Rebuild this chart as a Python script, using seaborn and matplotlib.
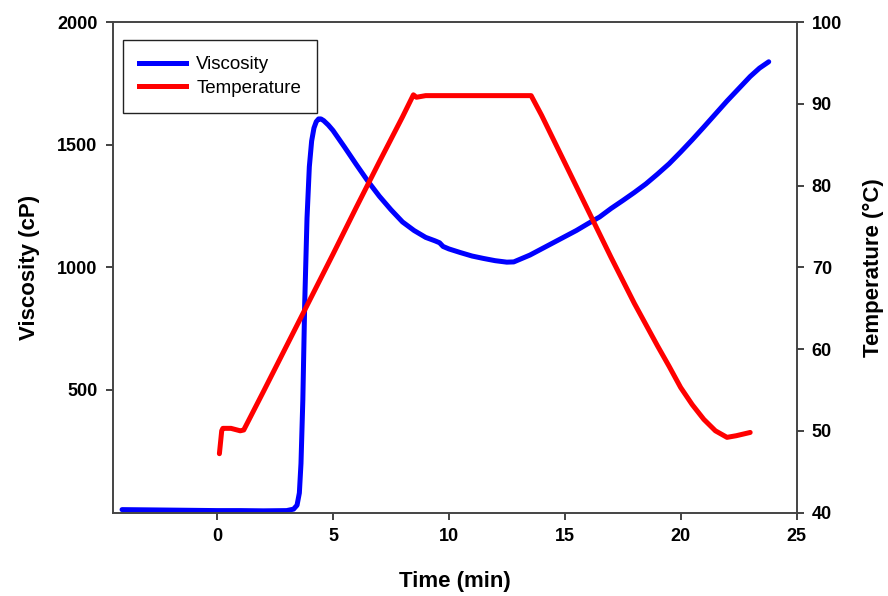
import matplotlib
matplotlib.use("Agg")
import matplotlib.pyplot as plt
import seaborn as sns
import pandas as pd
from matplotlib.lines import Line2D

# Viscosity (cP) vs time (min)
visc_time = [-4.1, -3.0, -2.0, -1.0, 0.0, 1.0, 2.0, 3.0, 3.3, 3.45, 3.55, 3.62, 3.7,
             3.78, 3.88, 3.98, 4.08, 4.18, 4.28, 4.38, 4.48, 4.6, 4.8, 5.0, 5.5, 6.0,
             6.5, 7.0, 7.5, 8.0, 8.5, 9.0, 9.4, 9.6, 9.75, 10.0, 10.5, 11.0, 11.5, 12.0,
             12.5, 12.8, 13.5, 14.0, 14.5, 15.0, 15.5, 16.0, 16.5, 17.0, 17.5, 18.0,
             18.5, 19.0, 19.5, 20.0, 20.5, 21.0, 21.5, 22.0, 22.5, 23.0, 23.4, 23.8]
viscosity = [12, 11, 10, 9, 8, 8, 7, 8, 14, 30, 80, 200, 460,
             850, 1200, 1410, 1515, 1568, 1594, 1605, 1605, 1598, 1580, 1558, 1490, 1420,
             1352, 1290, 1235, 1185, 1150, 1122, 1108, 1100, 1085, 1075, 1060, 1046, 1036, 1027,
             1021, 1022, 1050, 1075, 1100, 1125, 1150, 1178, 1205, 1240, 1272, 1305,
             1340, 1380, 1422, 1470, 1520, 1572, 1625, 1678, 1728, 1778, 1812, 1838]

# Temperature (°C) vs time (min)
temp_time = [0.1, 0.2, 0.25, 0.6, 1.0, 1.15, 2.0, 3.0, 4.0, 5.0, 6.0, 7.0, 8.0, 8.47,
             8.6, 9.0, 10.0, 11.0, 12.0, 13.0, 13.55, 14.0, 15.0, 16.0, 17.0, 18.0,
             19.0, 19.5, 20.0, 20.5, 21.0, 21.5, 22.0, 22.4, 23.0]
temperature = [47.2, 50.0, 50.3, 50.3, 50.0, 50.1, 54.8, 60.4, 66.0, 71.6, 77.3, 82.9, 88.4, 91.1,
               90.8, 91.0, 91.0, 91.0, 91.0, 91.0, 91.0, 88.6, 82.8, 77.0, 71.2, 65.6,
               60.4, 57.9, 55.3, 53.2, 51.4, 50.0, 49.2, 49.4, 49.8]

x_ticks = [0, 5, 10, 15, 20, 25]
visc_ticks = [500, 1000, 1500, 2000]
temp_ticks = [40, 50, 60, 70, 80, 90, 100]

df_v = pd.DataFrame({"Time": visc_time, "Viscosity": viscosity})
df_t = pd.DataFrame({"Time": temp_time, "Temperature": temperature})

plt.rcParams["font.family"] = ["Liberation Sans", "DejaVu Sans"]

fig = plt.figure(figsize=(8.88, 5.96), dpi=100)
ax = fig.add_axes([0.127, 0.14, 0.77, 0.823])
ax2 = ax.twinx()

sns.lineplot(data=df_v, x="Time", y="Viscosity", ax=ax, color="#0000ff", linewidth=3.6,
             sort=False, legend=False, solid_capstyle="round", solid_joinstyle="round")
sns.lineplot(data=df_t, x="Time", y="Temperature", ax=ax2, color="#ff0000", linewidth=3.6,
             sort=False, legend=False, solid_capstyle="round", solid_joinstyle="round")

ax.set_xlim(-4.5, 25)
ax.set_ylim(0, 2000)
ax2.set_ylim(40, 100)
ax.set_xticks(x_ticks)
ax.set_yticks(visc_ticks)
ax2.set_yticks(temp_ticks)

for a in (ax, ax2):
    for s in a.spines.values():
        s.set_color("#444444")
        s.set_linewidth(1.2)
    a.tick_params(direction="out", length=5, width=1.2, color="#222222",
                  labelsize=13, pad=6)
    for lbl in a.get_xticklabels() + a.get_yticklabels():
        lbl.set_fontweight("bold")

ax.set_xlabel("Time (min)", fontsize=16, fontweight="bold", labelpad=19)
ax.set_ylabel("Viscosity (cP)", fontsize=16, fontweight="bold", labelpad=12)
ax2.set_ylabel("Temperature (°C)", fontsize=16, fontweight="bold", labelpad=15)

handles = [Line2D([0], [0], color="#0000ff", lw=3.6),
           Line2D([0], [0], color="#ff0000", lw=3.6)]
leg = ax.legend(handles, ["Viscosity", "Temperature"], loc="upper left",
                bbox_to_anchor=(0.015, 0.963), borderaxespad=0, fontsize=13.5,
                frameon=True, fancybox=False, edgecolor="#222222", framealpha=1,
                handlelength=2.5, handletextpad=0.55, borderpad=0.85, labelspacing=0.35)
leg.get_frame().set_linewidth(1.0)

fig.savefig("out.png", dpi=100)
